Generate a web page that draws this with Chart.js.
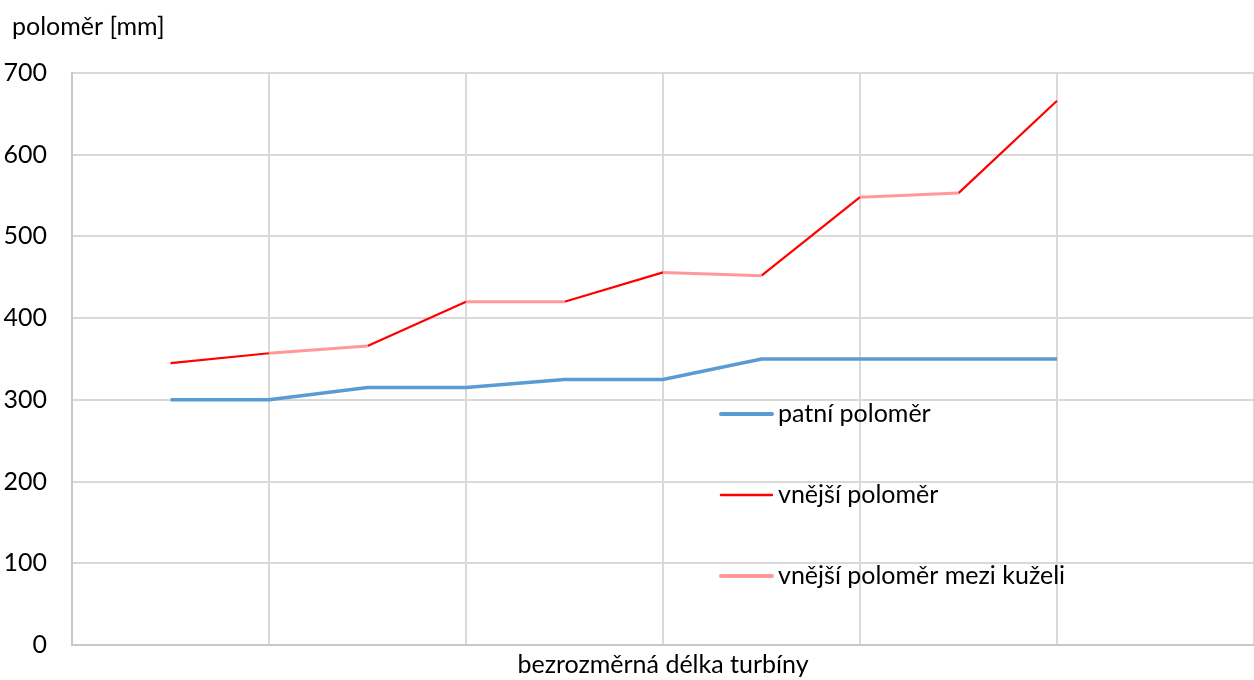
<!DOCTYPE html>
<html>
<head>
<meta charset="utf-8">
<script src="https://cdn.jsdelivr.net/npm/chart.js@4"></script>
<style>
  html, body { margin: 0; padding: 0; background: #fff; }
  #wrap { width: 1254px; height: 680px; }
</style>
</head>
<body>
<div id="wrap"><canvas id="chart" width="1254" height="680"></canvas></div>
<script>
// positions along the turbine (bezrozměrná délka)
const positions = [0.5, 1, 1.5, 2, 2.5, 3, 3.5, 4, 4.5, 5];
// patní poloměr [mm]
const patni = [300, 300, 315, 315, 325, 325, 350, 350, 350, 350];
// vnější poloměr [mm] – even segments belong to the blades, odd ones are between cones
const vnejsi = [345, 357, 366, 420, 420, 456, 452, 548, 553, 666];
const yTicks = [0, 100, 200, 300, 400, 500, 600, 700];

const labels = ['patní poloměr', 'vnější poloměr', 'vnější poloměr mezi kuželi'];
const colors = ['#5b9bd5', '#ff0000', '#ff9999'];

const FONT = 'Lato, "Open Sans", sans-serif';
const SIZE = 25;

const toPoints = (vals) => vals.map((v, i) => ({ x: positions[i], y: v }));

// draws the axis title at the top and the legend inside the plot
const extras = {
    id: 'extras',
    afterDraw(chart) {
        const ctx = chart.ctx;
        ctx.save();
        ctx.fillStyle = '#000';
        ctx.font = SIZE + 'px ' + FONT;
        ctx.textBaseline = 'middle';
        ctx.textAlign = 'left';
        ctx.fillText('poloměr [mm]', 12, 27);

        const widths = [4, 2.5, 4];
        const rows = [414, 495, 576];
        labels.forEach((lab, i) => {
            ctx.strokeStyle = colors[i];
            ctx.lineWidth = widths[i];
            ctx.lineCap = 'round';
            ctx.beginPath();
            ctx.moveTo(721, rows[i]);
            ctx.lineTo(772, rows[i]);
            ctx.stroke();
            ctx.fillText(lab, 778, rows[i]);
        });
        ctx.restore();
    }
};

new Chart(document.getElementById('chart'), {
    type: 'line',
    data: {
        datasets: [
            {
                label: labels[0],
                data: toPoints(patni),
                borderColor: colors[0],
                borderWidth: 3.5,
                pointRadius: 0,
                tension: 0,
            },
            {
                label: labels[2],
                data: toPoints(vnejsi),
                borderColor: colors[2],
                borderWidth: 3,
                pointRadius: 0,
                tension: 0,
                segment: { borderColor: c => c.p0DataIndex % 2 === 1 ? colors[2] : 'rgba(0,0,0,0)' },
            },
            {
                label: labels[1],
                data: toPoints(vnejsi),
                borderColor: colors[1],
                borderWidth: 2.2,
                pointRadius: 0,
                tension: 0,
                segment: { borderColor: c => c.p0DataIndex % 2 === 0 ? colors[1] : 'rgba(0,0,0,0)' },
            },
        ],
    },
    options: {
        responsive: false,
        animation: false,
        layout: { padding: { top: 73, right: 0, bottom: 0, left: 0 } },
        plugins: {
            legend: { display: false },
            tooltip: { enabled: false },
        },
        scales: {
            x: {
                type: 'linear',
                min: 0,
                max: 6,
                afterFit: s => { s.height = 35; },
                ticks: { display: false, stepSize: 1 },
                grid: { color: '#d9d9d9', lineWidth: 2, drawTicks: false },
                border: { color: '#c8c8c8', width: 2 },
                title: {
                    display: true,
                    text: 'bezrozměrná délka turbíny',
                    color: '#000',
                    font: { family: FONT, size: SIZE },
                    padding: { top: 1, bottom: 0 },
                },
            },
            y: {
                min: 0,
                max: 700,
                afterFit: s => { s.width = 72; s.paddingTop = 0; s.paddingBottom = 0; },
                afterBuildTicks: s => { s.ticks = yTicks.map(v => ({ value: v })); },
                ticks: { color: '#000', font: { family: FONT, size: SIZE }, padding: 25 },
                grid: { color: '#d9d9d9', lineWidth: 2, drawTicks: false },
                border: { color: '#c8c8c8', width: 2 },
            },
        },
    },
    plugins: [extras],
});
</script>
</body>
</html>
